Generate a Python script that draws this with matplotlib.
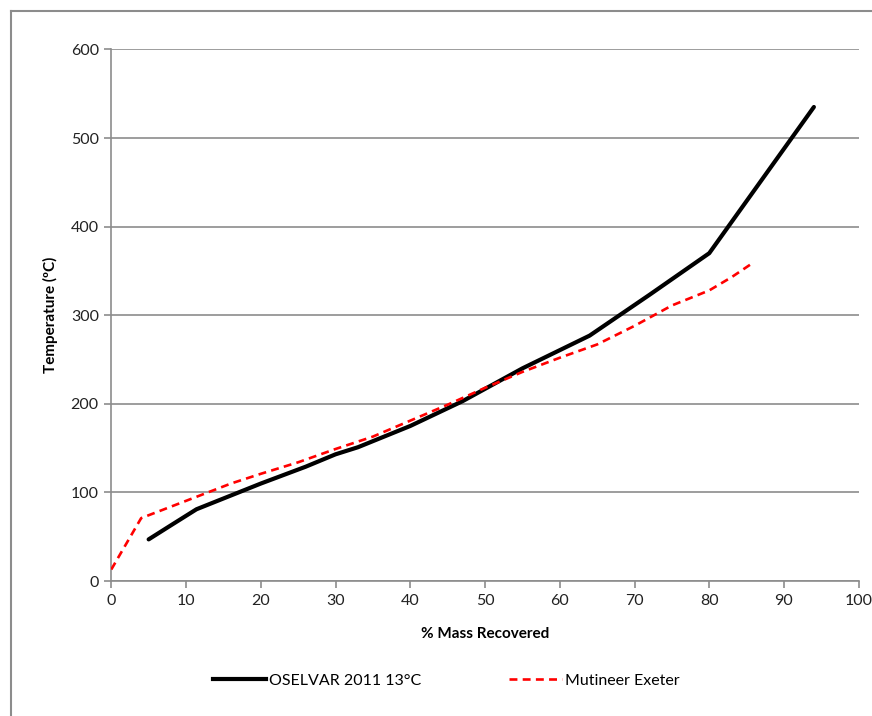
import matplotlib
matplotlib.use("Agg")
import matplotlib.pyplot as plt
from matplotlib.lines import Line2D

plt.rcParams['font.family'] = ['Lato', 'DejaVu Sans']

# OSELVAR 2011 13°C distillation curve
osel_mass = [5, 8, 11.4, 20, 26, 30, 33, 40, 47, 55, 64, 72, 80, 94]
osel_temp = [47, 63, 81, 110, 129, 143, 151, 175, 203, 240, 277, 323, 370, 535]

# Mutineer Exeter distillation curve
mut_mass = [0, 4, 8, 12, 16, 20, 25, 30, 35, 40, 45, 50, 55, 60, 65, 70, 75, 80, 83, 86]
mut_temp = [13, 71, 84, 97, 110, 121, 134, 149, 163, 181, 199, 218, 236, 252, 267, 288, 311, 328, 343, 360]

x_ticks = list(range(0, 101, 10))
y_ticks = list(range(0, 601, 100))

grey = '#8c8c8c'

fig = plt.figure(figsize=(8.72, 7.16), dpi=100)
ax = fig.add_axes([0.1276, 0.1885, 0.8572, 0.7425])

ax.plot(osel_mass, osel_temp, color='black', lw=3, solid_capstyle='round',
        label='OSELVAR 2011 13°C', zorder=3)
ax.plot(mut_mass, mut_temp, color='#ff0000', lw=1.9, linestyle=(0, (3, 2)),
        label='Mutineer Exeter', zorder=4)

ax.set_xlim(0, 100)
ax.set_ylim(0, 600)
ax.set_xticks(x_ticks)
ax.set_yticks(y_ticks)
ax.grid(axis='y', color=grey, lw=1.2)
ax.set_axisbelow(True)
for s in ['top', 'right']:
    ax.spines[s].set_visible(False)
for s in ['left', 'bottom']:
    ax.spines[s].set_color(grey)
    ax.spines[s].set_linewidth(1.2)
ax.tick_params(colors=grey, length=5, width=1.2, labelsize=11.5, labelcolor='#222222', pad=4)

ax.set_xlabel('% Mass Recovered', fontsize=11, fontweight='bold', labelpad=14)
ax.set_ylabel('Temperature (ºC)', fontsize=11, fontweight='bold', labelpad=9)

handles = [Line2D([], [], color='black', lw=3),
           Line2D([], [], color='#ff0000', lw=1.9, linestyle=(0, (3, 2)))]
fig.legend(handles, ['OSELVAR 2011 13°C', 'Mutineer Exeter'],
           loc='center', bbox_to_anchor=(0.512, 0.049), ncol=2, frameon=False,
           fontsize=11.5, handlelength=3.3, handletextpad=0.2, columnspacing=5.5)

# outer chart border (cropped at right and bottom)
fig.add_artist(Line2D([11 / 872, 11 / 872], [0, 1 - 11 / 716], color=grey, lw=1.5,
                      transform=fig.transFigure))
fig.add_artist(Line2D([11 / 872, 1], [1 - 11 / 716, 1 - 11 / 716], color=grey, lw=1.5,
                      transform=fig.transFigure))

fig.savefig('out.png', dpi=100)
